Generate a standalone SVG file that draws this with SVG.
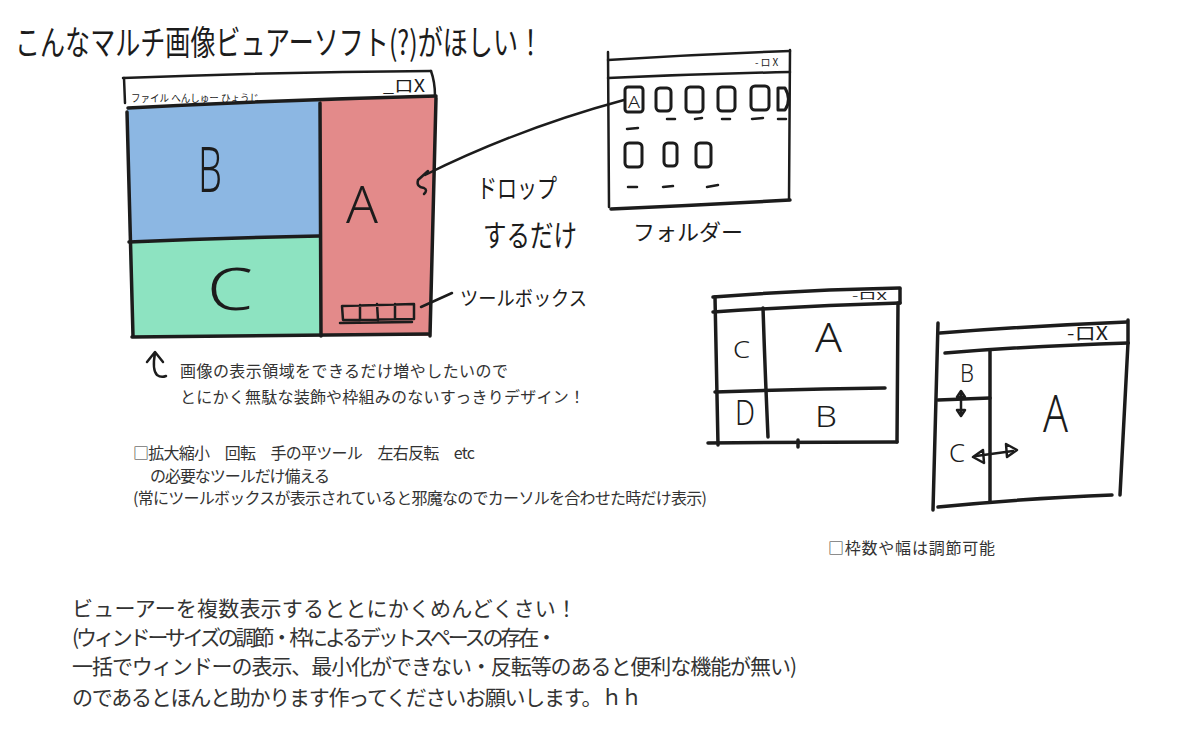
<svg xmlns="http://www.w3.org/2000/svg" width="1200" height="755" viewBox="0 0 1200 755">
<style>
.ln{fill:none;stroke:#1c1c1c;stroke-width:3.5;stroke-linecap:round;stroke-linejoin:round}
.th{stroke-width:2.5}
.hd{font-family:"Noto Sans CJK JP","Noto Sans",sans-serif;fill:#1c1c1c}
.lt{font-family:"Noto Sans","Liberation Sans",sans-serif;fill:#1c1c1c;font-weight:300}
.bd{font-family:"Noto Sans CJK JP","Noto Sans",sans-serif;fill:#333;font-size:16px}
.bg{font-family:"Noto Sans CJK JP","Noto Sans",sans-serif;fill:#333;font-size:21px}
.ic{fill:none;stroke:#1c1c1c;stroke-width:3;stroke-linejoin:round}
</style>
<rect width="1200" height="755" fill="#fff"/>

<g id="title">
<text class="hd" transform="translate(15,55) scale(1,1.35)" font-size="25" textLength="528" lengthAdjust="spacingAndGlyphs">こんなマルチ画像ビュアーソフト(?)がほしい！</text>
</g>

<g id="main-window">
<polygon id="panel-b" points="127,107 319,101 319,236 129,242" fill="#8cb7e3"/>
<polygon id="panel-c" points="129,242 319,236 321,336 132,337" fill="#8de3c1"/>
<polygon id="panel-a" points="320,101 437,96 431,336 321,336" fill="#e38a8a"/>
<path class="ln th" d="M123,78 Q280,72 431,71"/>
<path class="ln th" d="M124,78 L125,103"/>
<path class="ln th" d="M431,71 Q435,82 435,96"/>
<path class="ln" d="M128,108 Q280,100 436,96"/>
<path class="ln" d="M127,112 L133,336"/>
<path class="ln" d="M436,98 L430,336"/>
<path class="ln" d="M132,337 Q280,336 428,334"/>
<path class="ln" d="M129,242 Q220,238 319,236"/>
<path class="ln" d="M320,103 L321,336"/>
<text class="hd" x="131" y="102" font-size="10" textLength="128" lengthAdjust="spacingAndGlyphs">ファイル へんしゅー ひょうじ</text>
<text class="hd" x="383" y="92" font-size="17" textLength="42" lengthAdjust="spacingAndGlyphs">_ロX</text>
<text class="lt" x="198" y="192" font-size="62" textLength="24" lengthAdjust="spacingAndGlyphs">B</text>
<text class="lt" x="346" y="223" font-size="52" textLength="32" lengthAdjust="spacingAndGlyphs">A</text>
<text class="lt" x="207" y="310" font-size="58" textLength="46" lengthAdjust="spacingAndGlyphs">C</text>
</g>

<g id="toolbox">
<path class="ln th" d="M342,306 L414,304 L414,319 L343,320 Z M360,305 L360,320 M377,304 L378,320 M395,304 L395,319 M340,323 L412,322"/>
</g>

<g id="folder-window">
<path class="ln th" d="M608,60 Q700,54 790,51"/>
<path class="ln th" d="M608,52 L609,207"/>
<path class="ln th" d="M608,78 Q700,74 790,72"/>
<path class="ln th" d="M790,50 L789,200"/>
<path class="ln" d="M611,209 Q700,205 790,200"/>
<text class="hd" x="755" y="66" font-size="10" letter-spacing="2">-ロX</text>
<rect class="ic" x="625" y="87" width="18" height="25" rx="3"/>
<text class="lt" x="628" y="108" font-size="17" textLength="12" lengthAdjust="spacingAndGlyphs">A</text>
<rect class="ic" x="656" y="88" width="15" height="23" rx="4"/>
<rect class="ic" x="686" y="87" width="17" height="25" rx="4"/>
<rect class="ic" x="718" y="87" width="17" height="24" rx="4"/>
<rect class="ic" x="751" y="86" width="18" height="24" rx="4"/>
<path class="ic" d="M778,88 L778,110 L785,110 Q792,100 785,88 Z"/>
<path class="ln th" d="M667,119 L675,119 M695,119 L702,118 M722,119 L730,119 M752,119 L763,118 M778,119 L786,119 M627,129 L638,128"/>
<rect class="ic" x="625" y="143" width="17" height="24" rx="4"/>
<rect class="ic" x="664" y="143" width="13" height="23" rx="4"/>
<rect class="ic" x="696" y="143" width="15" height="24" rx="4"/>
<path class="ln th" d="M628,187 L637,187 M663,187 L673,186 M707,187 L718,185"/>
<text class="hd" x="633" y="240" font-size="22" textLength="110" lengthAdjust="spacingAndGlyphs">フォルダー</text>
</g>

<g id="connectors">
<path class="ln th" d="M624,100 Q520,128 425,175"/>
<path class="ln th" d="M428,171 L418,180 Q416,187 424,188 Q428,190 424,194"/>
<path class="ln th" d="M421,307 L452,293"/>
</g>

<g id="labels">
<text class="hd" x="477" y="198" font-size="26" textLength="80" lengthAdjust="spacingAndGlyphs">ドロップ</text>
<text class="hd" x="483" y="246" font-size="30" textLength="94" lengthAdjust="spacingAndGlyphs">するだけ</text>
<text class="hd" x="460" y="306" font-size="20" textLength="127" lengthAdjust="spacingAndGlyphs">ツールボックス</text>
</g>

<g id="window-2">
<path class="ln" d="M713,297 Q800,290 900,288"/>
<path class="ln" d="M900,289 L900,303"/>
<path class="ln" d="M713,312 Q800,306 900,303"/>
<path class="ln" d="M715,297 L718,445"/>
<path class="ln" d="M898,303 L897,442"/>
<path class="ln" d="M708,443 Q800,442 897,442"/>
<path class="ln" d="M763,308 Q765,370 768,437"/>
<path class="ln" d="M715,392 Q800,389 885,388"/>
<path class="ln" d="M798,440 L798,447"/>
<text class="hd" x="852" y="300" font-size="11" textLength="35" lengthAdjust="spacingAndGlyphs">-ロX</text>
<text class="lt" x="733" y="358" font-size="24" textLength="17" lengthAdjust="spacingAndGlyphs">C</text>
<text class="lt" x="815" y="352" font-size="40" textLength="27" lengthAdjust="spacingAndGlyphs">A</text>
<text class="lt" x="735" y="425" font-size="34" textLength="20" lengthAdjust="spacingAndGlyphs">D</text>
<text class="lt" x="815" y="427" font-size="30" textLength="22" lengthAdjust="spacingAndGlyphs">B</text>
</g>

<g id="window-3">
<path class="ln" d="M940,333 Q1030,326 1127,322"/>
<path class="ln" d="M938,323 L933,510"/>
<path class="ln" d="M1128,320 L1128,343"/>
<path class="ln" d="M945,353 Q1030,346 1128,343"/>
<path class="ln" d="M1128,343 L1120,495"/>
<path class="ln" d="M938,507 Q1030,498 1112,495"/>
<path class="ln" d="M990,350 L990,502"/>
<path class="ln" d="M938,400 L990,398"/>
<text class="hd" x="1067" y="340" font-size="18" textLength="41" lengthAdjust="spacingAndGlyphs">-ロX</text>
<text class="lt" x="960" y="382" font-size="26" textLength="14" lengthAdjust="spacingAndGlyphs">B</text>
<text class="lt" x="1043" y="432" font-size="52" textLength="25" lengthAdjust="spacingAndGlyphs">A</text>
<text class="lt" x="949" y="462" font-size="26" textLength="16" lengthAdjust="spacingAndGlyphs">C</text>
<path class="ln th" d="M961,394 L961,413"/>
<path class="ln th" d="M957,397 L961,391 L965,397 Z M957,410 L961,416 L965,410 Z" fill="#1c1c1c"/>
<path class="ln th" d="M976,456 L1013,451"/>
<path class="ln th" d="M983,450 L973,457 L984,463 Z M1006,444 L1017,450 L1007,457 Z"/>
</g>

<g id="notes">
<path class="ln th" d="M147,362 L155,352 L163,362 M155,353 Q152,370 157,375 Q161,378 166,376"/>
<text class="bd" x="180" y="377" textLength="328">画像の表示領域をできるだけ増やしたいので</text>
<text class="bd" x="180" y="403" textLength="405">とにかく無駄な装飾や枠組みのないすっきりデザイン！</text>
<text class="bd" x="133" y="459" textLength="342">□拡大縮小　回転　手の平ツール　左右反転　etc</text>
<text class="bd" x="150" y="482" textLength="180">の必要なツールだけ備える</text>
<text class="bd" x="133" y="504" textLength="574">(常にツールボックスが表示されていると邪魔なのでカーソルを合わせた時だけ表示)</text>
<text class="bd" x="828" y="554" textLength="167">□枠数や幅は調節可能</text>
<text class="bg" x="72" y="616" textLength="505">ビューアーを複数表示するととにかくめんどくさい！</text>
<text class="bg" x="72" y="645" textLength="485">(ウィンドーサイズの調節・枠によるデットスペースの存在・</text>
<text class="bg" x="72" y="674" textLength="725">一括でウィンドーの表示、最小化ができない・反転等のあると便利な機能が無い)</text>
<text class="bg" x="72" y="705" textLength="570">のであるとほんと助かります作ってくださいお願いします。ｈｈ</text>
</g>
</svg>
